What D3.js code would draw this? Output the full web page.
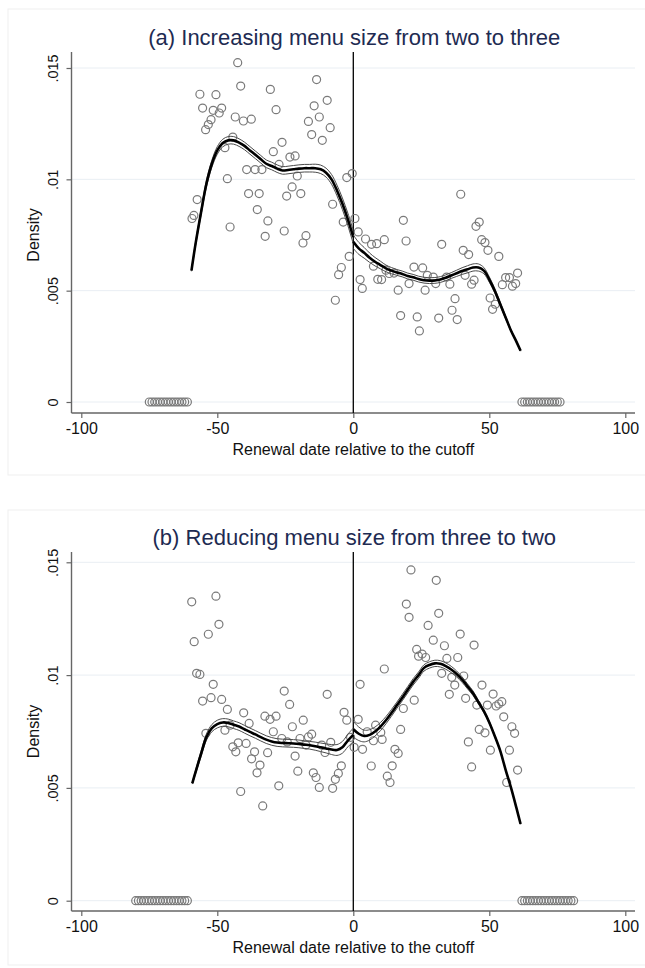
<!DOCTYPE html>
<html>
<head>
<meta charset="utf-8">
<script src="https://cdn.jsdelivr.net/npm/d3@7"></script>
<style>
  html, body { margin: 0; padding: 0; background: #fff; }
  svg { display: block; }
  text { font-family: "Liberation Sans", Arial, Helvetica, sans-serif; }
</style>
</head>
<body>
<svg id="fig" width="645" height="968"></svg>
<script>
// ---- axis ticks ----
const xTicks = [-100, -50, 0, 50, 100];
const xTickLabels = ["-100", "-50", "0", "50", "100"];
const yTicks = [0, 0.005, 0.01, 0.015];
const yTickLabels = ["0", ".005", ".01", ".015"];
const cutoff = 0;

// ---- panel (a): binned densities by renewal day ----
const aBinX = [-59.3, -58.6, -57.4, -56.4, -55.4, -54.3, -53.3, -52.3, -51.5, -50.5, -49.3, -48.4, -47.2, -46.3, -45.3, -44.3, -43.4, -42.5, -41.4, -40.4, -39.2, -38.5, -37.5, -36.1, -35.3, -34.6, -33.6, -32.4, -31.4, -30.5, -29.4, -28.4, -27.3, -26.2, -25.4, -24.5, -23.3, -22.5, -21.4, -20.6, -19.3, -18.5, -17.4, -16.5, -15.3, -14.4, -13.5, -12.5, -11.4, -9.6, -8.5, -7.6, -6.6, -5.4, -4.4, -3.7, -2.4, -1.5, -0.4,
  0.6, 1.8, 2.5, 3.3, 4.5, 6.7, 7.4, 8.6, 9.0, 10.4, 11.4, 12.0, 13.2, 15.0, 16.5, 17.4, 18.4, 19.4, 20.5, 22.3, 23.5, 24.3, 25.5, 26.4, 27.2, 29.4, 30.3, 31.4, 32.5, 34.3, 35.5, 36.3, 37.4, 38.2, 39.5, 40.4, 41.1, 42.4, 43.5, 44.4, 45.1, 46.3, 47.2, 48.4, 49.5, 50.3, 51.2, 52.2, 53.5, 54.8, 56.0, 57.4, 58.5, 59.7, 60.4];
const aBinY = [0.00824, 0.00838, 0.00909, 0.01382, 0.0132, 0.01223, 0.01246, 0.01268, 0.0131, 0.0138, 0.01298, 0.0132, 0.01142, 0.01003, 0.00786, 0.0119, 0.0128, 0.01524, 0.01419, 0.01262, 0.01044, 0.00936, 0.0127, 0.01044, 0.00864, 0.00936, 0.01044, 0.00744, 0.00813, 0.01404, 0.01124, 0.01313, 0.01067, 0.01166, 0.00768, 0.00925, 0.011, 0.00966, 0.01105, 0.01015, 0.00936, 0.00714, 0.00747, 0.0126, 0.01201, 0.0133, 0.01448, 0.0128, 0.01175, 0.01355, 0.01232, 0.00888, 0.00457, 0.00572, 0.00604, 0.00808, 0.01008, 0.00654, 0.01026,
  0.00824, 0.00764, 0.0055, 0.0051, 0.00732, 0.00708, 0.0061, 0.00711, 0.00551, 0.0055, 0.00729, 0.00592, 0.00577, 0.00579, 0.00502, 0.00388, 0.00816, 0.00723, 0.00532, 0.00606, 0.00382, 0.00319, 0.00602, 0.00502, 0.00569, 0.00561, 0.00532, 0.00377, 0.00708, 0.00561, 0.00529, 0.00412, 0.00464, 0.0037, 0.00933, 0.00681, 0.00569, 0.00662, 0.00529, 0.00547, 0.00789, 0.00808, 0.00729, 0.00716, 0.00681, 0.00467, 0.00416, 0.00439, 0.00654, 0.00527, 0.00559, 0.00559, 0.0052, 0.00532, 0.00579];
const aEmptyDays = [-75, -74, -73, -72, -71, -70, -69, -68, -67, -66, -65, -64, -63, -62, -61,
  62, 63, 64, 65, 66, 67, 68, 69, 70, 71, 72, 73, 74, 75, 76];

// panel (a): fitted density left / right of the cutoff, with CI half-widths
const aLeftX = [-59.5, -58, -56, -54, -52, -50, -48, -46, -44, -42, -40, -38, -36, -34, -32, -30, -28, -26, -24, -22, -20, -18, -16, -14, -12, -10, -8, -6, -4, -2, 0];
const aLeftFit = [0.0059, 0.0071, 0.0085, 0.0098, 0.0107, 0.0113, 0.01163, 0.01175, 0.01175, 0.01165, 0.0115, 0.0113, 0.0111, 0.0109, 0.0107, 0.0106, 0.01048, 0.0104, 0.01042, 0.01045, 0.01048, 0.0105, 0.0105, 0.0105, 0.01045, 0.0103, 0.0100, 0.0095, 0.0089, 0.0082, 0.0074];
const aLeftCI = [0.00003, 0.00008, 0.00012, 0.00015, 0.00016, 0.00017, 0.00017, 0.00017, 0.00017, 0.00017, 0.00017, 0.00017, 0.00017, 0.00017, 0.00017, 0.00017, 0.00017, 0.00017, 0.00017, 0.00017, 0.00017, 0.00017, 0.00017, 0.00018, 0.00019, 0.0002, 0.00022, 0.00024, 0.00026, 0.00028, 0.0003];
const aRightX = [0, 2, 4, 6, 8, 10, 12, 14, 16, 18, 20, 22, 24, 26, 28, 30, 32, 34, 36, 38, 40, 42, 44, 46, 48, 50, 52, 54, 56, 58, 60, 61.5];
const aRightFit = [0.0072, 0.0069, 0.0067, 0.00648, 0.0063, 0.00615, 0.006, 0.0059, 0.00582, 0.00575, 0.00566, 0.0056, 0.00552, 0.00547, 0.00545, 0.00546, 0.0055, 0.00558, 0.00568, 0.00578, 0.00588, 0.00596, 0.00604, 0.00604, 0.0059, 0.0055, 0.005, 0.0044, 0.0038, 0.0032, 0.0027, 0.0023];
const aRightCI = [0.0003, 0.00027, 0.00024, 0.00021, 0.00019, 0.00017, 0.00015, 0.00014, 0.00013, 0.00013, 0.00013, 0.00013, 0.00013, 0.00013, 0.00013, 0.00013, 0.00013, 0.00013, 0.00013, 0.00014, 0.00015, 0.00016, 0.00016, 0.00016, 0.00014, 0.00012, 0.0001, 0.00008, 0.00006, 0.00004, 0.00003, 0.00002];

// ---- panel (b) ----
const bBinX = [-59.4, -58.5, -57.6, -56.4, -55.4, -54.2, -53.3, -52.3, -51.5, -50.5, -49.4, -48.4, -47.2, -46.3, -45.3, -44.3, -43.2, -42.3, -41.4, -40.3, -39.4, -38.3, -37.4, -36.3, -35.4, -34.3, -33.3, -32.5, -31.5, -30.6, -29.4, -28.4, -27.4, -26.3, -25.4, -24.3, -23.4, -22.4, -21.4, -20.4, -19.6, -18.4, -17.4, -16.5, -15.3, -14.7, -13.7, -12.5, -11.6, -10.4, -9.6, -8.3, -7.6, -6.6, -5.5, -4.4, -3.4, -2.4, -1.0, 0.3,
  1.8, 2.5, 3.4, 5.1, 6.6, 7.4, 8.2, 10.1, 10.6, 11.4, 12.5, 13.5, 14.3, 15.3, 16.5, 17.4, 18.4, 19.5, 20.5, 21.2, 22.4, 23.3, 24.0, 25.3, 26.6, 27.5, 29.4, 30.5, 31.4, 32.5, 33.5, 34.4, 35.3, 36.2, 37.3, 38.4, 39.3, 40.6, 41.3, 42.3, 43.5, 44.4, 45.4, 46.3, 47.3, 48.4, 49.3, 50.4, 51.4, 52.5, 53.5, 54.6, 55.3, 56.4, 57.4, 58.3, 59.3, 60.4];
const bBinY = [0.01325, 0.01148, 0.01008, 0.01003, 0.00885, 0.00742, 0.01181, 0.009, 0.00959, 0.0135, 0.01225, 0.00892, 0.00756, 0.00848, 0.00778, 0.00682, 0.0066, 0.007, 0.00484, 0.00833, 0.00697, 0.00786, 0.00629, 0.0066, 0.00567, 0.00601, 0.0042, 0.00818, 0.00656, 0.00804, 0.00749, 0.00818, 0.00509, 0.00719, 0.00929, 0.00704, 0.0087, 0.00771, 0.00641, 0.00574, 0.00719, 0.008, 0.0069, 0.00726, 0.00738, 0.00567, 0.00546, 0.00502, 0.0069, 0.00657, 0.00915, 0.00702, 0.00498, 0.00538, 0.00564, 0.00598, 0.00835, 0.008, 0.00724, 0.0068,
  0.00804, 0.00959, 0.00671, 0.00749, 0.00597, 0.00709, 0.00778, 0.00746, 0.00715, 0.01027, 0.00552, 0.00524, 0.00598, 0.00671, 0.00653, 0.00759, 0.00852, 0.01315, 0.01256, 0.01466, 0.00889, 0.01114, 0.01084, 0.01093, 0.01078, 0.0122, 0.01155, 0.0142, 0.01274, 0.01008, 0.0113, 0.01074, 0.00915, 0.0099, 0.00956, 0.01078, 0.01182, 0.00996, 0.00897, 0.00704, 0.00593, 0.01133, 0.00867, 0.00759, 0.00956, 0.00744, 0.00867, 0.00667, 0.00916, 0.00863, 0.00872, 0.00882, 0.00815, 0.00524, 0.00667, 0.00771, 0.00742, 0.00579];
const bEmptyDays = [-80, -79, -78, -77, -76, -75, -74, -73, -72, -71, -70, -69, -68, -67, -66, -65, -64, -63, -62, -61,
  62, 63, 64, 65, 66, 67, 68, 69, 70, 71, 72, 73, 74, 75, 76, 77, 78, 79, 80, 81];

const bLeftX = [-59.2, -58, -56, -54, -52, -50, -48, -46, -44, -42, -40, -38, -36, -34, -32, -30, -28, -26, -24, -22, -20, -18, -16, -14, -12, -10, -8, -6, -4, -2, 0];
const bLeftFit = [0.0052, 0.0057, 0.0065, 0.00725, 0.00765, 0.00783, 0.0079, 0.00788, 0.0078, 0.00772, 0.0076, 0.00748, 0.00737, 0.00725, 0.00714, 0.00706, 0.00701, 0.00699, 0.00698, 0.00697, 0.00695, 0.00692, 0.00689, 0.00685, 0.0068, 0.00675, 0.0067, 0.00668, 0.0068, 0.0071, 0.00735];
const bLeftCI = [0.00003, 0.00008, 0.00012, 0.00014, 0.00016, 0.00017, 0.00017, 0.00017, 0.00017, 0.00017, 0.00017, 0.00017, 0.00017, 0.00017, 0.00017, 0.00017, 0.00017, 0.00017, 0.00017, 0.00017, 0.00017, 0.00017, 0.00017, 0.00018, 0.00019, 0.0002, 0.00022, 0.00024, 0.00026, 0.00028, 0.0003];
const bRightX = [0, 2, 4, 6, 8, 10, 12, 14, 16, 18, 20, 22, 24, 26, 28, 30, 32, 34, 36, 38, 40, 42, 44, 46, 48, 50, 52, 54, 56, 58, 60, 61.5];
const bRightFit = [0.0076, 0.0074, 0.0073, 0.00735, 0.0075, 0.00772, 0.008, 0.00832, 0.00866, 0.009, 0.00935, 0.0097, 0.0100, 0.01032, 0.01045, 0.01052, 0.0105, 0.0104, 0.01025, 0.01005, 0.0098, 0.0095, 0.0092, 0.0088, 0.0084, 0.0079, 0.0073, 0.00665, 0.0058, 0.005, 0.0041, 0.0034];
const bRightCI = [0.00035, 0.0003, 0.00026, 0.00023, 0.0002, 0.00018, 0.00016, 0.00015, 0.00014, 0.00014, 0.00014, 0.00014, 0.00014, 0.00014, 0.00014, 0.00014, 0.00014, 0.00014, 0.00014, 0.00013, 0.00012, 0.00011, 0.0001, 0.00008, 0.00006, 0.00005, 0.00004, 0.00003, 0.00002, 0.00002, 0.00002, 0.00002];

const panels = [
  { title: "(a) Increasing menu size from two to three",
    binX: aBinX, binY: aBinY, empty: aEmptyDays,
    fits: [[aLeftX, aLeftFit, aLeftCI], [aRightX, aRightFit, aRightCI]],
    box: [8, 9, 660, 466], top: 52, axisY: 413, zeroY: 402, topTickY: 68, titleY: 45 },
  { title: "(b) Reducing menu size from three to two",
    binX: bBinX, binY: bBinY, empty: bEmptyDays,
    fits: [[bLeftX, bLeftFit, bLeftCI], [bRightX, bRightFit, bRightCI]],
    box: [8, 510, 660, 455], top: 552, axisY: 911, zeroY: 900.7, topTickY: 562.3, titleY: 545 }
];

const plotLeft = 71.5, plotRight = 635;
const svg = d3.select("#fig");
const x = d3.scaleLinear().domain([-100, 100]).range([81.3, 625.3]);

panels.forEach(p => {
  const y = d3.scaleLinear().domain([0, 0.015]).range([p.zeroY, p.topTickY]);
  const g = svg.append("g");

  // faint outer frame of the panel
  g.append("rect")
    .attr("x", p.box[0]).attr("y", p.box[1])
    .attr("width", p.box[2]).attr("height", p.box[3])
    .attr("fill", "none").attr("stroke", "#efefef").attr("stroke-width", 1);

  // horizontal grid
  g.selectAll("line.grid").data(yTicks).enter().append("line")
    .attr("x1", plotLeft).attr("x2", plotRight)
    .attr("y1", d => y(d)).attr("y2", d => y(d))
    .attr("stroke", "#e9eef3").attr("stroke-width", 1);

  // y axis
  const yAxis = d3.axisLeft(y).tickValues(yTicks)
    .tickFormat((d, i) => yTickLabels[i]).tickSize(5).tickSizeOuter(0).tickPadding(8);
  const ya = g.append("g").attr("transform", `translate(${plotLeft},0)`).call(yAxis);
  ya.select(".domain").remove();
  ya.selectAll(".tick line").attr("stroke", "#666").attr("stroke-width", 1.2);
  ya.selectAll(".tick text")
    .attr("font-size", 14.5).attr("fill", "#111")
    .attr("x", null).attr("dy", null)
    .attr("text-anchor", "middle")
    .attr("transform", "translate(-13.5,0) rotate(-90)");
  g.append("line").attr("x1", plotLeft).attr("x2", plotLeft)
    .attr("y1", p.top).attr("y2", p.axisY)
    .attr("stroke", "#666").attr("stroke-width", 1.4);

  // x axis
  const xAxis = d3.axisBottom(x).tickValues(xTicks)
    .tickFormat((d, i) => xTickLabels[i]).tickSize(5).tickSizeOuter(0).tickPadding(5);
  const xa = g.append("g").attr("transform", `translate(0,${p.axisY})`).call(xAxis);
  xa.select(".domain").remove();
  xa.selectAll(".tick line").attr("stroke", "#666").attr("stroke-width", 1.2);
  xa.selectAll(".tick text").attr("font-size", 16).attr("fill", "#111");
  g.append("line").attr("x1", plotLeft).attr("x2", plotRight)
    .attr("y1", p.axisY).attr("y2", p.axisY)
    .attr("stroke", "#666").attr("stroke-width", 1.4);

  // axis titles
  g.append("text").attr("x", x(0)).attr("y", p.axisY + 42)
    .attr("text-anchor", "middle").attr("font-size", 16).attr("fill", "#111")
    .text("Renewal date relative to the cutoff");
  g.append("text")
    .attr("transform", `translate(39,${y(0.0075)}) rotate(-90)`)
    .attr("text-anchor", "middle").attr("font-size", 16).attr("fill", "#111")
    .text("Density");

  // panel title
  g.append("text").attr("x", x(0) + 1).attr("y", p.titleY)
    .attr("text-anchor", "middle").attr("font-size", 22).attr("fill", "#1e2b52")
    .text(p.title);

  // cutoff line
  g.append("line").attr("x1", x(cutoff)).attr("x2", x(cutoff))
    .attr("y1", p.top).attr("y2", p.axisY)
    .attr("stroke", "#000").attr("stroke-width", 1.3);

  // binned densities
  const pts = p.binX.map((d, i) => [d, p.binY[i]]).concat(p.empty.map(d => [d, 0]));
  g.selectAll("circle.bin").data(pts).enter().append("circle")
    .attr("cx", d => x(d[0])).attr("cy", d => y(d[1])).attr("r", 4)
    .attr("fill", "none").attr("stroke", "#7a7a7a").attr("stroke-width", 1.2);

  // fitted densities with confidence bounds
  const line = d3.line().x(d => x(d[0])).y(d => y(d[1])).curve(d3.curveCatmullRom.alpha(0.5));
  p.fits.forEach(([fx, fy, ci]) => {
    const lo = fx.map((d, i) => [d, fy[i] - ci[i]]);
    const hi = fx.map((d, i) => [d, fy[i] + ci[i]]);
    const mid = fx.map((d, i) => [d, fy[i]]);
    [lo, hi].forEach(band => g.append("path").attr("d", line(band))
      .attr("fill", "none").attr("stroke", "#4a4a4a").attr("stroke-width", 1));
    g.append("path").attr("d", line(mid))
      .attr("fill", "none").attr("stroke", "#000").attr("stroke-width", 2.6)
      .attr("stroke-linejoin", "round");
  });
});
</script>
</body>
</html>
